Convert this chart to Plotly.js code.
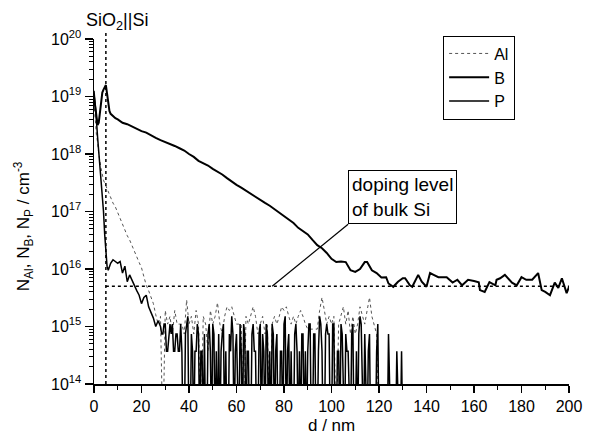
<!DOCTYPE html>
<html>
<head>
<meta charset="utf-8">
<script src="https://cdn.plot.ly/plotly-3.0.1.min.js"></script>
<style>html,body{margin:0;padding:0;background:#fff;}#chart{width:592px;height:441px;}</style>
</head>
<body>
<div id="chart"></div>
<script>
// depth (nm) and concentration (cm^-3); 1e13 = below detection (drops to axis floor)
var dAl = [0,0.5,1,1.5,2,3,4,5,6,7,8,9,10,11,12,13,14,15,16,17,18,19,20,21,22,23,24,25,26,27,
  28,29,30,31,32,33,34,35,36,37,38,39,40,41,42,43,44,45,46,47,48,49,50,51,52,53,54,55,56,57,58,59,60,
  61,62,63,64,65,66,67,68,69,70,71,72,73,74,75,76,77,78,79,80,81,82,83,84,85,86,87,88,89,90,
  91,92,93,94,95,96,97,98,99,100,101,102,103,104,105,106,107,108,109,110,111,112,113,114,115,116,117,118,119,120];
var nAl = [7.9e18,4.0e18,2.2e18,1.6e18,1.0e18,5.6e17,3.5e17,2.8e17,2.2e17,1.8e17,1.4e17,1.2e17,9.5e16,7.6e16,6.0e16,4.8e16,3.8e16,3.2e16,2.6e16,2.1e16,1.7e16,1.3e16,1.05e16,7.1e15,5.2e15,4.2e15,3.2e15,2.5e15,1.6e15,1.1e15,
  1.5e15,1e13,1.9e15,1.1e15,1.5e15,7.4e14,1.9e15,1.1e15,1.1e15,1.1e15,7.4e14,2.9e15,1.1e15,1.5e15,7.4e14,1.9e15,1.1e15,1e13,1.5e15,1.1e15,3.7e14,1.9e15,1.1e15,1.5e15,2.6e15,1.1e15,7.4e14,1.5e15,2.2e15,1.9e15,2.2e15,1.5e15,1.1e15,
  1.1e15,1.1e15,1e13,1.5e15,1.1e15,1.5e15,2.2e15,1.5e15,7.4e14,1.1e15,1.5e15,7.4e14,1.1e15,1e13,1.1e15,1.5e15,1.1e15,1.5e15,2.2e15,1.9e15,2.2e15,1.5e15,1.1e15,1.5e15,1.1e15,1.5e15,1.9e15,1.5e15,1.1e15,9e14,
  9e14,9e14,9e14,9e14,1.9e15,3.2e15,1.9e15,1.1e15,1.5e15,1.1e15,1.5e15,1e13,1.1e15,1.5e15,2.2e15,1.1e15,1.9e15,7.4e14,1.5e15,7.4e14,1.1e15,2.2e15,1.5e15,1.1e15,1.9e15,3.2e15,1.5e15,1.1e15,7.4e14,1e13];

var dB = [0,0.5,1,1.5,2,2.5,3,3.5,4,4.5,5,5.5,6,6.5,7,8,9,10,
  12,14,16,18,20,22,24,26,28,30,32,34,36,38,40,42,44,46,48,50,52,54,56,58,60,62,64,66,68,70,72,74,76,78,80,82,84,86,88,90,92,94,96,98,100,102,104,106,108,110,112,114,
  115,117,119,121,123,124,126,128,130,131,133,134,136.5,138,140,141.5,143,145,147,148.5,151,153,155,157.5,160,162,162.5,164.5,166.5,169,169.5,171,173,176,178,180,182,184.5,187,188.5,190,192,194,195.5,197,199,200];
var nB = [1.0e19,6.3e18,4.0e18,3.2e18,3.5e18,5.6e18,8.9e18,1.17e19,1.32e19,1.41e19,1.58e19,1.12e19,7.1e18,5.6e18,5.0e18,4.5e18,4.2e18,4.0e18,
  3.5e18,3.3e18,3.0e18,2.75e18,2.5e18,2.35e18,2.1e18,1.9e18,1.74e18,1.62e18,1.48e18,1.38e18,1.26e18,1.15e18,1.0e18,8.9e17,7.6e17,6.9e17,6.3e17,5.5e17,5.0e17,4.4e17,3.8e17,3.3e17,2.9e17,2.6e17,2.3e17,2.0e17,1.74e17,1.58e17,1.41e17,1.26e17,1.1e17,9.3e16,8.3e16,7.2e16,6.3e16,5.2e16,4.6e16,4.0e16,3.2e16,2.6e16,2.3e16,1.9e16,1.5e16,1.32e16,1.35e16,1.32e16,9.5e15,8.9e15,1.0e16,1.32e16,
  1.32e16,9.5e15,8.5e15,7.1e15,7.2e15,5.6e15,4.9e15,6.0e15,6.9e15,6.9e15,5.2e15,4.9e15,7.9e15,6.0e15,4.9e15,8.5e15,7.9e15,7.2e15,7.2e15,7.2e15,5.8e15,6.5e15,5.2e15,6.5e15,6.2e15,5.9e15,4.3e15,4.0e15,5.9e15,5.2e15,6.5e15,6.9e15,7.9e15,5.8e15,5.2e15,7.2e15,6.5e15,6.5e15,8.5e15,4.3e15,4.0e15,3.5e15,5.8e15,4.7e15,6.9e15,3.8e15,4.9e15];

var dP = [0,0.5,1,1.5,2,2.5,3,3.5,4,4.5,5,5.5,6,7,8,9,10,11,12,13,14,15,16,17,18,19,20,21,22,23,24,25,26,27,
  28,28.5,29,29.5,30,30.5,31,31.5,32,32.5, 33,33.5,34,34.5,35,35.5,36,36.5,37,37.5,
  38,38.5,39,39.5,40,40.5,41,41.5,42,42.5, 43,43.5,44,44.5,45,45.5,46,46.5,47,47.5,
  48,48.5,49,49.5,50,50.5,51,51.5,52,52.5, 53,53.5,54,54.5,55,55.5,56,56.5,57,57.5,
  58,58.5,59,59.5,60,60.5,61,61.5,62,62.5, 63,63.5,64,64.5,65,65.5,66,66.5,67,67.5,
  68,68.5,69,69.5,70,70.5,71,71.5,72,72.5, 73,73.5,74,74.5,75,75.5,76,76.5,77,77.5,
  78,78.5,79,79.5,80,80.5,81,81.5,82,82.5, 83,83.5,84,84.5,85,85.5,86,86.5,87,87.5,
  88,88.5,89,89.5,90,90.5,91,91.5,92,92.5, 93,93.5,94,94.5,95,95.5,96,96.5,97,97.5,
  98,98.5,99,99.5,100,100.5,101,101.5,102,102.5, 103,103.5,104,104.5,105,105.5,106,106.5,107,107.5,
  108,108.5,109,109.5,110,110.5,111,111.5,112,112.5, 113,113.5,114,114.5,115,115.5,116,116.5,117,117.5,
  118,118.5,119,119.5,120,120.5,121,121.5,122,122.5, 123,123.5,124,124.5,125,125.5,126,126.5,127,127.5,
  128,128.5,129,129.5,130];
var nP = [1.26e19,7.9e18,4.0e18,2.0e18,1.12e18,7.9e17,4.0e17,2.0e17,1.0e17,4.0e16,1.8e16,1.12e16,9.5e15,1.26e16,1.45e16,1.35e16,1.26e16,1.35e16,8.5e15,1.12e16,6.0e15,7.9e15,6.3e15,5.0e15,4.2e15,3.5e15,2.5e15,3.2e15,3.5e15,2.2e15,1.8e15,1.4e15,1.0e15,1.26e15,
  1.0e15,7.4e14,7.4e14,1.1e15,1.1e15,3.7e14,3.7e14,7.4e14,1.1e15,7.4e14, 1.1e15,3.7e14,3.7e14,7.4e14,7.4e14,3.7e14,3.7e14,1.1e15,3.7e14,1e13,
  1e13,7.4e14,1.1e15,1.5e15,1e13,1e13,7.4e14,3.7e14,1e13,3.7e14, 3.7e14,1.1e15,7.4e14,1e13,3.7e14,3.7e14,1e13,7.4e14,1e13,1e13,
  7.4e14,1.1e15,3.7e14,1e13,1.1e15,7.4e14,1e13,3.7e14,1e13,7.4e14, 1e13,3.7e14,7.4e14,1.1e15,1e13,3.7e14,1e13,1e13,7.4e14,3.7e14,
  1.5e15,7.4e14,1e13,3.7e14,7.4e14,1e13,1e13,1.1e15,3.7e14,1e13, 1.1e15,7.4e14,1e13,3.7e14,3.7e14,1e13,1e13,7.4e14,1.1e15,3.7e14,
  3.7e14,1e13,1e13,7.4e14,1.1e15,1e13,7.4e14,3.7e14,1e13,1.1e15, 7.4e14,1e13,3.7e14,1e13,1.1e15,7.4e14,1e13,3.7e14,7.4e14,1e13,
  1e13,3.7e14,3.7e14,1e13,1.1e15,1.5e15,1e13,3.7e14,7.4e14,1e13, 3.7e14,1e13,1e13,7.4e14,1.1e15,3.7e14,1e13,3.7e14,1e13,7.4e14,
  7.4e14,1e13,3.7e14,1e13,3.7e14,1.1e15,1.1e15,1e13,1e13,7.4e14, 7.4e14,1e13,1e13,3.7e14,1.5e15,1.1e15,3.7e14,1e13,1e13,7.4e14,
  1.1e15,7.4e14,7.4e14,1e13,1e13,1.1e15,1.1e15,1e13,1e13,3.7e14, 3.7e14,1e13,1.1e15,7.4e14,1e13,1e13,7.4e14,3.7e14,3.7e14,1e13,
  1e13,7.4e14,1.1e15,1e13,1e13,3.7e14,1e13,7.4e14,1.5e15,1.1e15, 1e13,1e13,7.4e14,1e13,1e13,3.7e14,7.4e14,1e13,1e13,1e13,
  1e13,1e13,3.7e14,1.1e15,1e13,1e13,1e13,1e13,1e13,1e13, 1e13,1e13,7.4e14,1e13,1e13,1e13,1e13,1e13,1e13,3.7e14,
  1e13,1e13,1e13,3.7e14,1e13];

var seriesNames = ['Al', 'B', 'P'];
var interfaceDepth = 5;                 // SiO2 || Si interface, nm
var bulkLineDepths = [5, 200];          // dotted "doping level of bulk Si" line, nm
var bulkLineConc = [5e15, 5e15];        // cm^-3
var pointerDepths = [75, 107];          // pointer from the label box to the bulk level
var pointerConc = [5e15, 6e16];
var yTickVals = [1e14, 1e15, 1e16, 1e17, 1e18, 1e19, 1e20];

var FONT = '"Liberation Sans", Arial, Helvetica, sans-serif';
var L = Math.log10;

var traces = [
  {x: bulkLineDepths, y: bulkLineConc, mode: 'lines', showlegend: false, hoverinfo: 'skip',
   line: {color: '#000', width: 1.5, dash: 'dot'}},
  {x: pointerDepths, y: pointerConc, mode: 'lines', showlegend: false, hoverinfo: 'skip',
   line: {color: '#000', width: 1.2}},
  {x: dAl, y: nAl, name: seriesNames[0], mode: 'lines', line: {color: '#555', width: 1, dash: 'dot'}},
  {x: dB, y: nB, name: seriesNames[1], mode: 'lines', line: {color: '#000', width: 2}},
  {x: dP, y: nP, name: seriesNames[2], mode: 'lines', line: {color: '#000', width: 1.5}}
];

var layout = {
  width: 592, height: 441,
  margin: {l: 94, r: 23, t: 39, b: 57},
  paper_bgcolor: '#fff', plot_bgcolor: '#fff',
  font: {family: FONT, size: 16, color: '#000'},
  showlegend: true,
  legend: {x: 0.735, y: 1.01, xanchor: 'left', yanchor: 'top', bordercolor: '#000', borderwidth: 1,
           bgcolor: '#fff', font: {family: FONT, size: 16, color: '#000'}, tracegroupgap: 0, itemwidth: 40},
  xaxis: {range: [0, 200], dtick: 20, tick0: 0, showgrid: false, zeroline: false,
          showline: true, linecolor: '#000', linewidth: 1.5, ticks: 'outside', ticklen: 7, tickwidth: 1.5, tickcolor: '#000',
          minor: {dtick: 10, ticks: 'outside', ticklen: 4, tickwidth: 1, tickcolor: '#000', showgrid: false},
          tickfont: {family: FONT, size: 16, color: '#000'}},
  yaxis: {type: 'log', range: [14, 20], tickvals: yTickVals,
          ticktext: yTickVals.map(function(v){return '10<sup>' + Math.round(L(v)) + '</sup>';}),
          showgrid: false, zeroline: false,
          showline: true, linecolor: '#000', linewidth: 1.5, ticks: 'outside', ticklen: 8, tickwidth: 1.5, tickcolor: '#000',
          minor: {tickmode: 'linear', dtick: 'D1', ticks: 'outside', ticklen: 4, tickwidth: 1, tickcolor: '#000', showgrid: false},
          tickfont: {family: FONT, size: 16, color: '#000'}},
  shapes: [
    {type: 'line', xref: 'x', yref: 'paper', x0: interfaceDepth, x1: interfaceDepth, y0: 0, y1: 1.026,
     line: {color: '#000', width: 1.5, dash: 'dot'}}
  ],
  annotations: [
    {text: 'doping level<br>of bulk Si', xref: 'x', yref: 'y', x: pointerDepths[1], y: L(pointerConc[1]),
     xanchor: 'left', yanchor: 'bottom', align: 'left', showarrow: false, bordercolor: '#000', borderwidth: 1,
     borderpad: 3, bgcolor: '#fff', font: {family: FONT, size: 19, color: '#000'}},
    {text: 'SiO<sub>2</sub>||Si', xref: 'x', yref: 'paper', x: interfaceDepth + 4.5, y: 1.052, xanchor: 'center', yanchor: 'middle',
     showarrow: false, font: {family: FONT, size: 18, color: '#000'}},
    {text: 'd / nm', xref: 'paper', yref: 'paper', x: 0.5, y: -0.12, xanchor: 'center', yanchor: 'middle',
     showarrow: false, font: {family: FONT, size: 17, color: '#000'}},
    {text: 'N<sub>Al</sub>, N<sub>B</sub>, N<sub>P</sub> / cm<sup>-3</sup>', xref: 'paper', yref: 'paper',
     x: -0.147, y: 0.458, xanchor: 'center', yanchor: 'middle', textangle: -90,
     showarrow: false, font: {family: FONT, size: 17, color: '#000'}}
  ]
};

Plotly.newPlot('chart', traces, layout, {displayModeBar: false, staticPlot: true});
</script>
</body>
</html>
